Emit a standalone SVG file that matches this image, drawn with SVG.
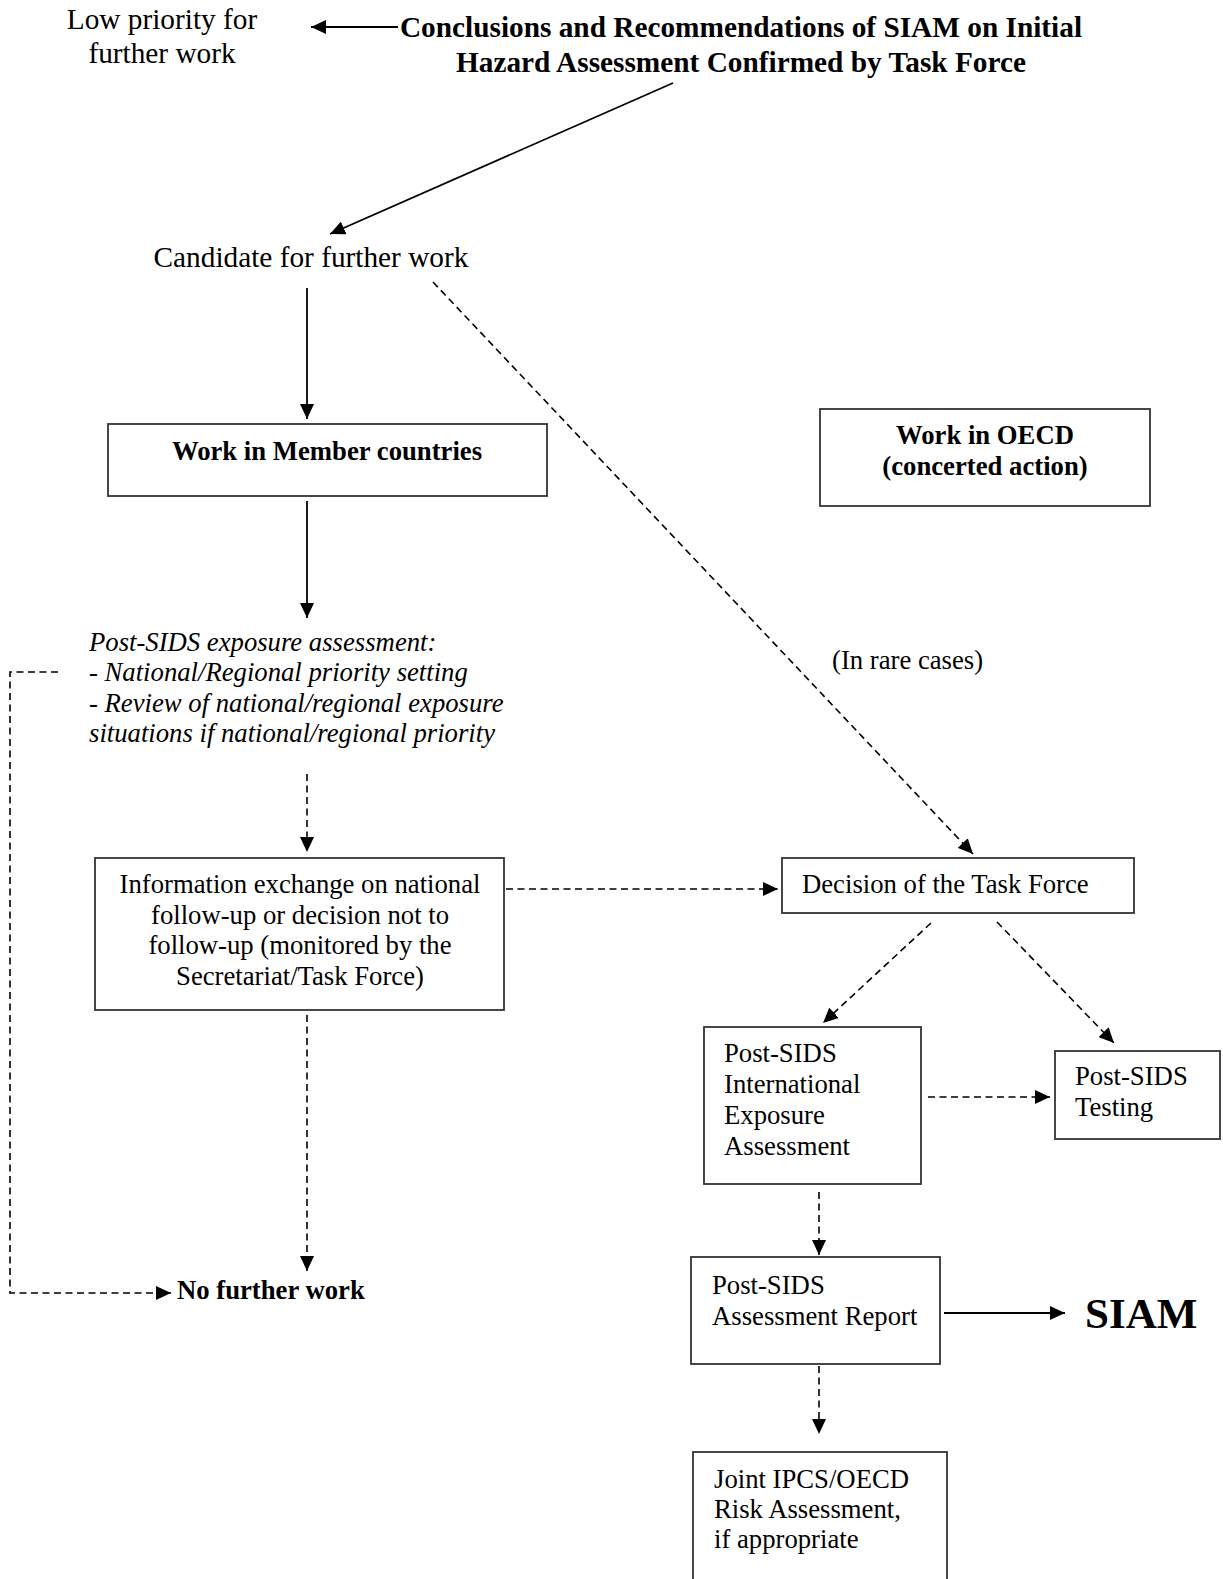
<svg xmlns="http://www.w3.org/2000/svg" width="1223" height="1579" viewBox="0 0 1223 1579">
<style>
text{font-family:"Liberation Serif","Times New Roman",serif;fill:#000}
.t{font-size:26.7px}
.tl{font-size:29.3px}
.b{font-weight:bold}
.i{font-style:italic}
.box{fill:#fff;stroke:#333;stroke-width:1.8}
.sl{fill:none;stroke:#000;stroke-width:1.8}
.dl{fill:none;stroke:#000;stroke-width:1.6;stroke-dasharray:7 4.5}
</style>
<defs>
<marker id="ah" viewBox="0 0 15 14" refX="15" refY="7" markerWidth="15" markerHeight="14" markerUnits="userSpaceOnUse" orient="auto">
<path d="M0,0 L15,7 L0,14 z" fill="#000"/>
</marker>
</defs>
<g id="connectors">
<line class="sl" x1="398" y1="27" x2="311" y2="27" marker-end="url(#ah)"/>
<line class="sl" x1="673" y1="83" x2="330" y2="234" marker-end="url(#ah)"/>
<line class="sl" x1="307" y1="288" x2="307" y2="419" marker-end="url(#ah)"/>
<line class="dl" x1="433" y1="282" x2="973" y2="854" marker-end="url(#ah)"/>
<line class="sl" x1="307" y1="501" x2="307" y2="618" marker-end="url(#ah)"/>
<polyline class="dl" points="58,672 10,672 10,1293 171,1293" marker-end="url(#ah)"/>
<line class="dl" x1="307" y1="774" x2="307" y2="852" marker-end="url(#ah)"/>
<line class="dl" x1="307" y1="1015" x2="307" y2="1271" marker-end="url(#ah)"/>
<line class="dl" x1="506" y1="889" x2="778" y2="889" marker-end="url(#ah)"/>
<line class="dl" x1="931" y1="923" x2="823" y2="1023" marker-end="url(#ah)"/>
<line class="dl" x1="997" y1="922" x2="1114" y2="1043" marker-end="url(#ah)"/>
<line class="dl" x1="928" y1="1097" x2="1050" y2="1097" marker-end="url(#ah)"/>
<line class="dl" x1="819" y1="1192" x2="819" y2="1255" marker-end="url(#ah)"/>
<line class="sl" x1="944" y1="1313" x2="1065" y2="1313" marker-end="url(#ah)"/>
<line class="dl" x1="819" y1="1366" x2="819" y2="1434" marker-end="url(#ah)"/>
</g>
<g id="low-priority">
<text class="tl" text-anchor="middle" x="162" y="29">Low priority for</text>
<text class="tl" text-anchor="middle" x="162" y="63">further work</text>
</g>
<g id="conclusions">
<text class="tl b" text-anchor="middle" x="741" y="37">Conclusions and Recommendations of SIAM on Initial</text>
<text class="tl b" text-anchor="middle" x="741" y="72">Hazard Assessment Confirmed by Task Force</text>
</g>
<g id="candidate">
<text class="tl" text-anchor="middle" x="311" y="267">Candidate for further work</text>
</g>
<g id="work-member">
<rect class="box" x="108" y="424" width="439" height="72"/>
<text class="t b" text-anchor="middle" x="327" y="460">Work in Member countries</text>
</g>
<g id="work-oecd">
<rect class="box" x="820" y="409" width="330" height="97"/>
<text class="t b" text-anchor="middle" x="985" y="444">Work in OECD</text>
<text class="t b" text-anchor="middle" x="985" y="475">(concerted action)</text>
</g>
<g id="post-sids-exposure">
<text class="t i" x="89" y="651">Post-SIDS exposure assessment:</text>
<text class="t i" x="89" y="681">- National/Regional priority setting</text>
<text class="t i" x="89" y="712">- Review of national/regional exposure</text>
<text class="t i" x="89" y="742">situations if national/regional priority</text>
</g>
<g id="rare-cases">
<text class="t" x="832" y="669">(In rare cases)</text>
</g>
<g id="info-exchange">
<rect class="box" x="95" y="858" width="409" height="152"/>
<text class="t" text-anchor="middle" x="300" y="893">Information exchange on national</text>
<text class="t" text-anchor="middle" x="300" y="924">follow-up or decision not to</text>
<text class="t" text-anchor="middle" x="300" y="954">follow-up (monitored by the</text>
<text class="t" text-anchor="middle" x="300" y="985">Secretariat/Task Force)</text>
</g>
<g id="decision">
<rect class="box" x="782" y="858" width="352" height="55"/>
<text class="t" x="802" y="893">Decision of the Task Force</text>
</g>
<g id="intl-exposure">
<rect class="box" x="704" y="1027" width="217" height="157"/>
<text class="t" x="724" y="1062">Post-SIDS</text>
<text class="t" x="724" y="1093">International</text>
<text class="t" x="724" y="1124">Exposure</text>
<text class="t" x="724" y="1155">Assessment</text>
</g>
<g id="testing">
<rect class="box" x="1055" y="1051" width="165" height="88"/>
<text class="t" x="1075" y="1085">Post-SIDS</text>
<text class="t" x="1075" y="1116">Testing</text>
</g>
<g id="no-further">
<text class="t b" x="177" y="1299">No further work</text>
</g>
<g id="assessment-report">
<rect class="box" x="691" y="1257" width="249" height="107"/>
<text class="t" x="712" y="1294">Post-SIDS</text>
<text class="t" x="712" y="1325">Assessment Report</text>
</g>
<g id="siam">
<text class="b" style="font-size:43px" x="1085" y="1328">SIAM</text>
</g>
<g id="joint">
<rect class="box" x="693" y="1452" width="254" height="140"/>
<text class="t" x="714" y="1488">Joint IPCS/OECD</text>
<text class="t" x="714" y="1518">Risk Assessment,</text>
<text class="t" x="714" y="1548">if appropriate</text>
</g>
</svg>
